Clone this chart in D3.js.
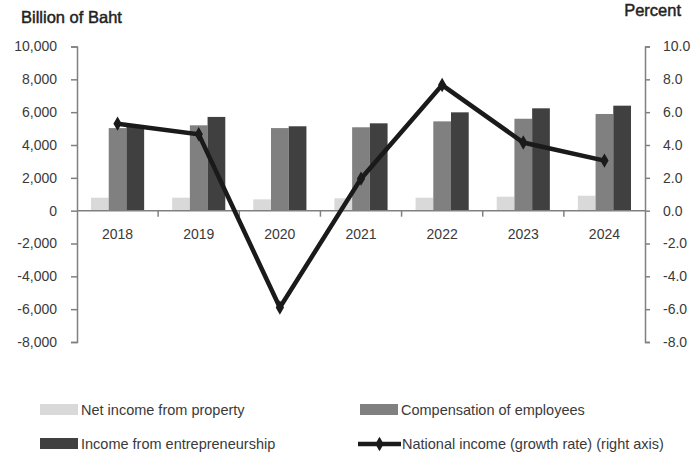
<!DOCTYPE html>
<html>
<head>
<meta charset="utf-8">
<script src="https://cdn.jsdelivr.net/npm/d3@7"></script>
<style>
  body { margin: 0; background: #fff; }
  svg { display: block; font-family: 'Liberation Sans', Arial, sans-serif; }
</style>
</head>
<body>
<svg id="chart"></svg>
<script>
const years = ['2018', '2019', '2020', '2021', '2022', '2023', '2024'];
const property = [790, 790, 690, 755, 790, 850, 910];
const compensation = [5030, 5200, 5030, 5080, 5440, 5600, 5890];
const entrepreneurship = [5220, 5710, 5140, 5320, 5990, 6235, 6395];
const growth = [5.3, 4.65, -5.9, 1.95, 7.65, 4.15, 3.05];
const leftTicks = [-8000, -6000, -4000, -2000, 0, 2000, 4000, 6000, 8000, 10000];
const rightTicks = [-8, -6, -4, -2, 0, 2, 4, 6, 8, 10];

const seriesNames = ['Net income from property', 'Compensation of employees', 'Income from entrepreneurship'];
const seriesColors = ['#d9d9d9', '#808080', '#404040'];
const lineName = 'National income (growth rate) (right axis)';

const width = 696, height = 457;
const margin = {left: 77, right: 51, top: 46.5, bottom: 115};

// plain hyphen for negatives, like the source chart
const locale = d3.formatLocale({decimal: '.', thousands: ',', grouping: [3], currency: ['', ''], minus: '-'});

const svg = d3.select('#chart')
  .attr('width', width)
  .attr('height', height);

const x = d3.scaleBand()
  .domain(years)
  .range([margin.left, width - margin.right])
  .padding(0);

const xInner = d3.scaleBand()
  .domain(seriesNames)
  .range([0, x.bandwidth()])
  .paddingInner(0)
  .paddingOuter(0.79);

const yLeft = d3.scaleLinear()
  .domain([-8000, 10000])
  .range([height - margin.bottom, margin.top]);

const yRight = d3.scaleLinear()
  .domain([-8, 10])
  .range([height - margin.bottom, margin.top]);

const axisColor = '#808080';
const textColor = '#3a3a3a';

// bars
const barData = years.map((yr, i) => ({
  year: yr,
  values: [property[i], compensation[i], entrepreneurship[i]]
}));

const groups = svg.append('g').classed('bars', true)
  .selectAll('g')
  .data(barData)
  .join('g')
    .attr('transform', d => `translate(${x(d.year)},0)`);

groups.selectAll('rect')
  .data(d => d.values.map((v, j) => ({name: seriesNames[j], value: v, color: seriesColors[j]})))
  .join('rect')
    .attr('x', d => xInner(d.name))
    .attr('width', xInner.bandwidth())
    .attr('y', d => yLeft(d.value))
    .attr('height', d => yLeft(0) - yLeft(d.value))
    .attr('fill', d => d.color);

// left axis
const leftAxis = svg.append('g')
  .attr('transform', `translate(${margin.left},0)`)
  .call(d3.axisLeft(yLeft).tickValues(leftTicks).tickFormat(locale.format(',')).tickSize(6).tickPadding(14));

// right axis
const rightAxis = svg.append('g')
  .attr('transform', `translate(${width - margin.right},0)`)
  .call(d3.axisRight(yRight).tickValues(rightTicks).tickFormat(locale.format('.1f')).tickSize(5).tickPadding(13));

[leftAxis, rightAxis].forEach(a => {
  a.select('.domain').attr('stroke', axisColor).attr('stroke-width', 1.5);
  a.selectAll('.tick line').attr('stroke', axisColor).attr('stroke-width', 1.5);
  a.selectAll('.tick text')
    .attr('fill', textColor)
    .style('font-size', '14px')
    .style('font-family', "'Liberation Sans', Arial, sans-serif");
});

// x axis at zero
const xAxisG = svg.append('g').classed('x-axis', true);
xAxisG.append('line')
  .attr('x1', margin.left)
  .attr('x2', width - margin.right)
  .attr('y1', yLeft(0))
  .attr('y2', yLeft(0))
  .attr('stroke', axisColor)
  .attr('stroke-width', 1.5);

xAxisG.selectAll('line.tick')
  .data(years.slice(1))
  .join('line')
    .classed('tick', true)
    .attr('x1', d => x(d))
    .attr('x2', d => x(d))
    .attr('y1', yLeft(0))
    .attr('y2', yLeft(0) + 6)
    .attr('stroke', axisColor)
    .attr('stroke-width', 1.5);

xAxisG.selectAll('text')
  .data(years)
  .join('text')
    .attr('x', d => x(d) + x.bandwidth() / 2)
    .attr('y', yLeft(0) + 28)
    .attr('text-anchor', 'middle')
    .attr('fill', textColor)
    .style('font-size', '14px')
    .text(d => d);

// growth line
const lineData = years.map((yr, i) => ({year: yr, value: growth[i]}));
const line = d3.line()
  .x(d => x(d.year) + x.bandwidth() / 2)
  .y(d => yRight(d.value));

svg.append('path')
  .datum(lineData)
  .attr('fill', 'none')
  .attr('stroke', '#1a1a1a')
  .attr('stroke-width', 4.5)
  .attr('stroke-linejoin', 'miter')
  .attr('d', line);

const diamond = d3.symbol().type(d3.symbolDiamond).size(60);
svg.append('g')
  .selectAll('path')
  .data(lineData)
  .join('path')
    .attr('transform', d => `translate(${x(d.year) + x.bandwidth() / 2},${yRight(d.value)})`)
    .attr('d', diamond)
    .attr('fill', '#1a1a1a');

// axis titles
svg.append('text')
  .attr('x', 21)
  .attr('y', 23)
  .attr('fill', '#222')
  .attr('stroke', '#222')
  .attr('stroke-width', 0.45)
  .style('font-size', '16.5px')
  .text('Billion of Baht');

svg.append('text')
  .attr('x', 681)
  .attr('y', 16)
  .attr('text-anchor', 'end')
  .attr('fill', '#222')
  .attr('stroke', '#222')
  .attr('stroke-width', 0.45)
  .style('font-size', '16.5px')
  .text('Percent');

// legend
const legendItems = [
  {name: seriesNames[0], color: seriesColors[0], type: 'rect', x: 40, y: 404},
  {name: seriesNames[1], color: seriesColors[1], type: 'rect', x: 360, y: 404},
  {name: seriesNames[2], color: seriesColors[2], type: 'rect', x: 40, y: 438},
  {name: lineName, color: '#1a1a1a', type: 'line', x: 358, y: 438}
];

const legend = svg.append('g').classed('legend', true)
  .selectAll('g')
  .data(legendItems)
  .join('g')
    .attr('transform', d => `translate(${d.x},${d.y})`);

legend.filter(d => d.type === 'rect').append('rect')
  .attr('width', 38)
  .attr('height', 11)
  .attr('fill', d => d.color);

legend.filter(d => d.type === 'line').append('line')
  .attr('x1', 0).attr('x2', 43)
  .attr('y1', 6).attr('y2', 6)
  .attr('stroke', d => d.color)
  .attr('stroke-width', 4.5);

legend.filter(d => d.type === 'line').append('path')
  .attr('transform', 'translate(21.5,6)')
  .attr('d', diamond)
  .attr('fill', d => d.color);

legend.append('text')
  .attr('x', d => d.type === 'line' ? 44 : 41)
  .attr('y', 11)
  .attr('fill', textColor)
  .style('font-size', '14.5px')
  .text(d => d.name);
</script>
</body>
</html>
